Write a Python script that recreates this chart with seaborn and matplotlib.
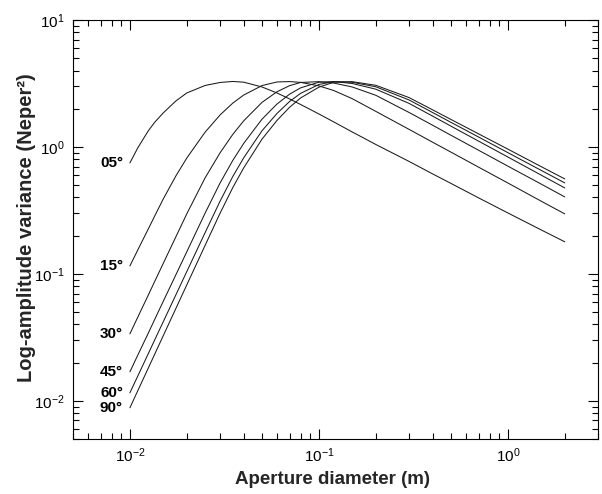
import numpy as np
import pandas as pd
import matplotlib
matplotlib.use("Agg")
import matplotlib.pyplot as plt
from matplotlib.ticker import LogLocator, NullFormatter
import seaborn as sns

# ---- data ----
aperture_m = [0.01, 0.011, 0.0125, 0.0135, 0.015, 0.0175, 0.02, 0.025, 0.03, 0.035,
              0.04, 0.05, 0.06, 0.07, 0.08, 0.1, 0.12, 0.15, 0.2, 0.3, 0.4, 0.5,
              0.7, 1.0, 1.5, 2.0]

var_05 = [0.748, 0.982, 1.337, 1.559, 1.852, 2.302, 2.662, 3.050, 3.220, 3.280,
          3.238, 2.968, 2.662, 2.388, 2.161, 1.819, 1.573, 1.313, 1.046, 0.769,
          0.613, 0.516, 0.397, 0.302, 0.222, 0.179]
var_15 = [0.1156, 0.1540, 0.2253, 0.2842, 0.3882, 0.5901, 0.8176, 1.308, 1.786, 2.213,
          2.563, 3.044, 3.250, 3.273, 3.226, 3.027, 2.781, 2.401, 1.907, 1.376,
          1.089, 0.910, 0.693, 0.520, 0.374, 0.297]
var_30 = [0.0337, 0.04552, 0.0679, 0.08665, 0.1207, 0.1956, 0.2973, 0.5709, 0.8988, 1.254,
          1.605, 2.245, 2.720, 3.039, 3.220, 3.268, 3.185, 2.968, 2.553, 1.869,
          1.482, 1.236, 0.942, 0.706, 0.510, 0.404]
var_45 = [0.01692, 0.02286, 0.03405, 0.0435, 0.06064, 0.0982, 0.1493, 0.3011, 0.520, 0.7815,
          1.066, 1.655, 2.177, 2.605, 2.920, 3.238, 3.273, 3.162, 2.852, 2.204,
          1.748, 1.458, 1.111, 0.833, 0.600, 0.4755]
var_60 = [0.01156, 0.01565, 0.02345, 0.0300, 0.04188, 0.06823, 0.1043, 0.2114, 0.374, 0.5836,
          0.8207, 1.341, 1.835, 2.282, 2.642, 3.105, 3.273, 3.232, 2.979, 2.345,
          1.866, 1.562, 1.197, 0.902, 0.654, 0.521]
var_90 = [0.00881, 0.01199, 0.01806, 0.02315, 0.03249, 0.0533, 0.08193, 0.1677, 0.3006, 0.4773,
          0.6834, 1.152, 1.617, 2.054, 2.431, 2.957, 3.238, 3.268, 3.060, 2.449,
          1.960, 1.646, 1.268, 0.961, 0.700, 0.560]

angle_labels = ["05\u00b0", "15\u00b0", "30\u00b0", "45\u00b0", "60\u00b0", "90\u00b0"]
series = [var_05, var_15, var_30, var_45, var_60, var_90]

x_label = "Aperture diameter (m)"
y_label = "Log-amplitude variance (Neper\u00b2)"

# ---- long-form table ----
frames = []
for lab, vals in zip(angle_labels, series):
    frames.append(pd.DataFrame({"D": aperture_m, "var": vals, "angle": lab}))
df = pd.concat(frames, ignore_index=True)

sns.set_style("ticks")
plt.rcParams["font.family"] = ["Liberation Sans", "DejaVu Sans"]
plt.rcParams["mathtext.fontset"] = "custom"
plt.rcParams["mathtext.rm"] = "Liberation Sans"
plt.rcParams["mathtext.it"] = "Liberation Sans:italic"
plt.rcParams["mathtext.bf"] = "Liberation Sans:bold"

fig = plt.figure(figsize=(6.02, 4.94), dpi=100)
ax = fig.add_axes([0.1213, 0.1113, 0.8721, 0.8482])

sns.lineplot(data=df, x="D", y="var", hue="angle", palette=["#1a1a1a"] * 6,
             legend=False, estimator=None, sort=False, linewidth=0.75, ax=ax)

ax.set_xscale("log")
ax.set_yscale("log")
ax.set_xlim(0.005, 3)
ax.set_ylim(0.005, 10)
for axis in (ax.xaxis, ax.yaxis):
    axis.set_major_locator(LogLocator(base=10, numticks=20))
    axis.set_minor_locator(LogLocator(base=10, subs=np.arange(2, 10), numticks=100))
    axis.set_minor_formatter(NullFormatter())

for lab, vals in zip(angle_labels, series):
    ax.annotate(lab, xy=(aperture_m[0], vals[0]), xytext=(-5, 0),
                textcoords="offset points", ha="right", va="center",
                fontsize=11, fontweight="bold", color="black")

ax.set_xlabel(x_label, fontsize=13.5, fontweight="bold")
ax.set_ylabel(y_label, fontsize=14.5, fontweight="bold")
ax.xaxis.set_label_coords(0.494, -0.076)
ax.yaxis.set_label_coords(-0.07, 0.505)

ax.tick_params(which="both", direction="in", top=True, right=True, width=0.8,
               colors="black", labelsize=11)
ax.tick_params(which="major", length=7)
ax.tick_params(which="minor", length=4)
ax.tick_params(axis="x", pad=5)
ax.tick_params(axis="y", pad=6)
for sp in ax.spines.values():
    sp.set_linewidth(0.8)
    sp.set_color("black")

fig.savefig("out.png", dpi=100)
